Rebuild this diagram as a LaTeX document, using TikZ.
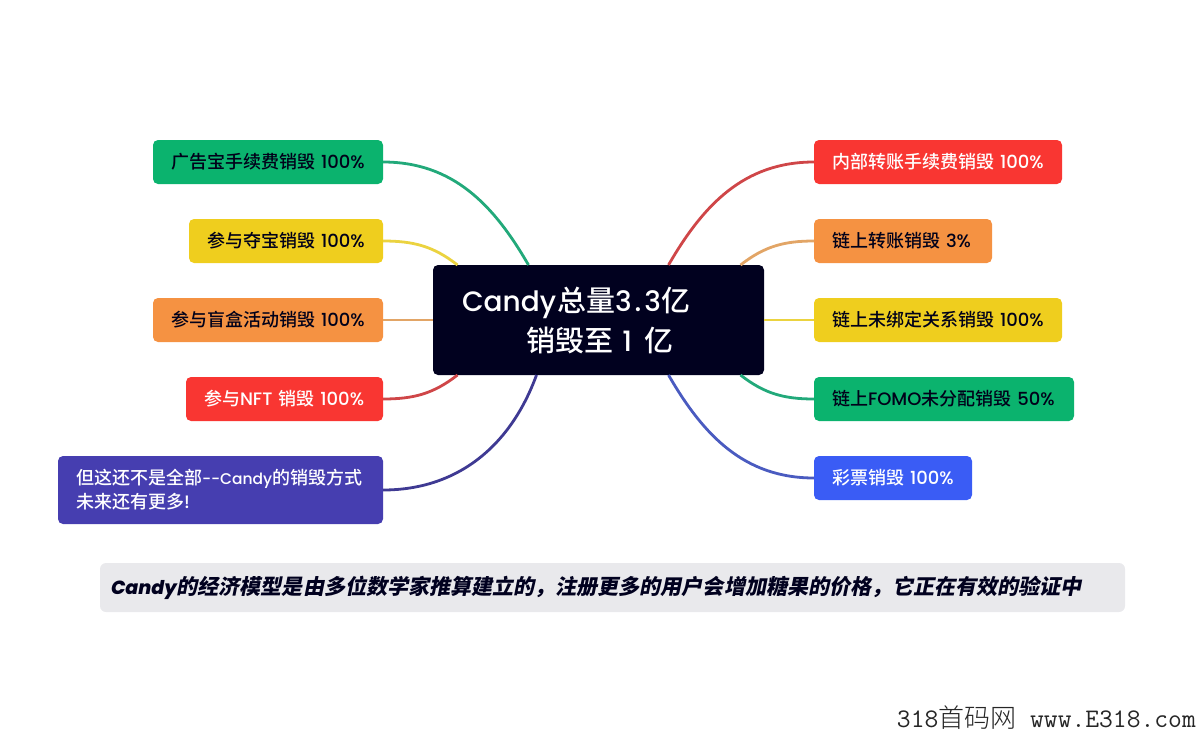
\documentclass[tikz,border=0pt]{standalone}
\usepackage{fontspec}
\setmainfont{Poppins}[UprightFont=* Medium]
\newfontfamily\cjk{Noto Sans CJK SC Medium}
\newfontfamily\cjkthin{Noto Sans CJK SC Light}
\newfontfamily\cjkslant[FakeSlant=0.2]{Noto Sans CJK SC Bold}
\usetikzlibrary{positioning,calc}
\definecolor{candyGreen}{HTML}{0BB36E}
\definecolor{candyYellow}{HTML}{EFCE1E}
\definecolor{candyOrange}{HTML}{F59242}
\definecolor{candyRed}{HTML}{F93632}
\definecolor{candyPurple}{HTML}{463EB0}
\definecolor{candyBlue}{HTML}{3A5CF5}
\definecolor{candyInk}{HTML}{01011F}
\definecolor{candyBar}{HTML}{E9E9EC}
\definecolor{lineGreen}{HTML}{22A97A}
\definecolor{lineYellow}{HTML}{EBD340}
\definecolor{lineOrange}{HTML}{E2A566}
\definecolor{lineRed}{HTML}{CF4648}
\definecolor{linePurple}{HTML}{3F3A93}
\definecolor{lineBlue}{HTML}{4A5BC0}
\newcommand{\zh}[1]{{\cjk #1}}
\newcommand{\zhbig}[1]{{\cjk\fontsize{29}{40}\selectfont #1}}

\begin{document}
\begin{tikzpicture}[x=1pt,y=-1pt]
\tikzset{myFont/.style={font=\fontsize{18}{24}\selectfont}}
\tikzset{myBox/.style={rounded corners=5pt,minimum height=44pt,inner xsep=18pt,inner ysep=0pt,outer sep=0pt,align=left,myFont}}
\tikzset{myDark/.style={myBox,text=candyInk!85!black}}
\tikzset{myLight/.style={myBox,text=white}}
\tikzset{myLink/.style={line width=2.8pt}}
\useasboundingbox (0,0) rectangle (1197,731);

\node[fill=candyInk,text=white,rounded corners=5pt,minimum height=110pt,text width=273pt,inner xsep=29pt,inner ysep=0pt,outer sep=0pt,align=left,font=\fontsize{28}{40}\selectfont] (hub) at (598.5,320) {Candy\kern1pt\zhbig{总量}3\kern3pt.\kern3pt3\zhbig{亿}\\\hspace*{64pt}\zhbig{销毁至} 1\kern3pt\ \zhbig{亿}};

\node[myDark,fill=candyOrange,text width=194pt,left=50pt of hub] (burnBlind) {\zh{参与盲盒活动销毁} 100\%};
\node[myDark,fill=candyYellow,text width=158pt,above=35pt of burnBlind.north east,anchor=south east] (burnTreasure) {\zh{参与夺宝销毁} 100\%};
\node[myDark,fill=candyGreen,text width=194pt,above=35pt of burnTreasure.north east,anchor=south east] (burnAd) {\zh{广告宝手续费销毁} 100\%};
\node[myLight,fill=candyRed,text width=161pt,below=35pt of burnBlind.south east,anchor=north east] (burnNft) {\zh{参与}NFT \zh{销毁} 100\%};
\node[myLight,fill=candyPurple,text width=289pt,minimum height=68pt,below=35pt of burnNft.south east,anchor=north east] (burnMore) {\mbox{\zh{但这还不是全部}{\fontsize{15.5}{24}\selectfont -{}-Candy}\zh{的销毁方式}}\\\zh{未来还有更多}!};

\node[myDark,fill=candyYellow,text width=212pt,right=50pt of hub] (chainUnbound) {\zh{链上未绑定关系销毁} 100\%};
\node[myDark,fill=candyOrange,text width=142pt,above=35pt of chainUnbound.north west,anchor=south west] (chainTransfer) {\zh{链上转账销毁} 3\%};
\node[myLight,fill=candyRed,text width=212pt,above=35pt of chainTransfer.north west,anchor=south west] (innerTransfer) {\zh{内部转账手续费销毁} 100\%};
\node[myDark,fill=candyGreen,text width=224pt,below=35pt of chainUnbound.south west,anchor=north west] (chainFomo) {\zh{链上}FOMO\zh{未分配销毁} 50\%};
\node[myLight,fill=candyBlue,text width=122pt,below=35pt of chainFomo.south west,anchor=north west] (lottery) {\zh{彩票销毁} 100\%};

\path[draw,myLink,lineGreen] (burnAd.east) edge[out=0,in=120] ($(hub.north)+(-70pt,0pt)$);
\path[draw,myLink,lineYellow] (burnTreasure.east) edge[out=0,in=142] ($(hub.north)+(-141pt,0pt)$);
\path[draw,myLink,lineOrange] (burnBlind.east) edge (hub.west);
\path[draw,myLink,lineRed] (burnNft.east) edge[out=0,in=218] ($(hub.south)+(-141pt,0pt)$);
\path[draw,myLink,linePurple] (burnMore.east) edge[out=0,in=250] ($(hub.south)+(-62pt,0pt)$);
\path[draw,myLink,lineRed] (innerTransfer.west) edge[out=180,in=60] ($(hub.north)+(70pt,0pt)$);
\path[draw,myLink,lineOrange] (chainTransfer.west) edge[out=180,in=38] ($(hub.north)+(142pt,0pt)$);
\path[draw,myLink,lineYellow] (chainUnbound.west) edge (hub.east);
\path[draw,myLink,lineGreen] (chainFomo.west) edge[out=180,in=-38] ($(hub.south)+(142pt,0pt)$);
\path[draw,myLink,lineBlue] (lottery.west) edge[out=180,in=-60] ($(hub.south)+(70pt,0pt)$);

\node[fill=candyBar,rounded corners=6pt,minimum height=49pt,text width=1003pt,inner xsep=11pt,inner ysep=0pt,outer sep=0pt,align=left,text=candyInk,font=\fontsize{19}{24}\selectfont\bfseries\itshape] (note) at (612.5,587.5) {Candy{\fontsize{21.05}{24}\selectfont\cjkslant 的经济模型是由多位数学家推算建立的，注册更多的用户会增加糖果的价格，它正在有效的验证中}};

\node[anchor=base east,inner sep=0pt,text=black!85,font=\fontsize{26.8}{28}\selectfont\ttfamily] (mark) at (1196,727) {318{\cjkthin\fontsize{26}{28}\selectfont 首码网} www.E318.com};
\end{tikzpicture}
\end{document}
